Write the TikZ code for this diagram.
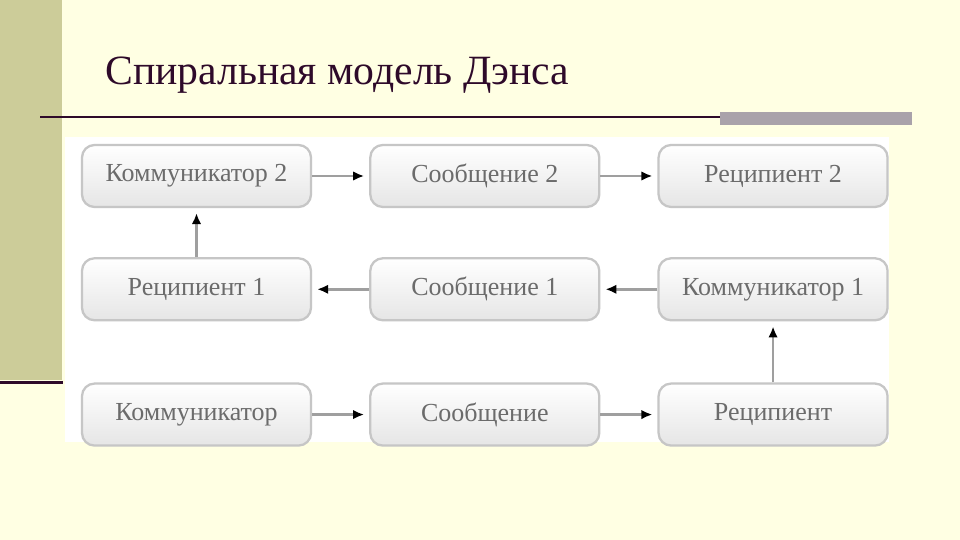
\documentclass[tikz,border=0pt]{standalone}
\usepackage{fontspec}
\setmainfont{Liberation Serif}
\usetikzlibrary{shapes,arrows.meta,positioning,calc}
\definecolor{fondo}{HTML}{FFFFE3}
\definecolor{franja}{HTML}{CCCC99}
\definecolor{ciruela}{HTML}{2E0A2A}
\definecolor{barra}{HTML}{A9A2AA}
\tikzset{
    etapa/.style={
        rectangle,                % forma básica
        rounded corners=2.5mm,    % esquinas redondeadas
        draw=gray!45,             % borde gris claro
        top color=white,          % degradado suave de arriba...
        bottom color=gray!20,     % ...hacia abajo
        line width=1.3pt,
        minimum width=4.58cm,     % todas las cajas iguales
        minimum height=1.24cm,
        text=black!58,            % texto gris
        font=\fontsize{14.8}{17}\selectfont
    },
    flecha/.style={
        draw=gray!75,             % línea gris
        line width=1.5pt,
        -{Latex[length=2.2mm,width=1.9mm,color=black]},
        shorten >=1mm
    }
}
\begin{document}
\begin{tikzpicture}
    \useasboundingbox (0,0) rectangle (19.2,10.8);
    % fondo de la diapositiva
    \fill[fondo] (0,0) rectangle (19.2,10.8);
    \fill[franja] (0,3.2) rectangle (1.24,10.8);
    \draw[ciruela,line width=1.5pt] (0,3.15) -- (1.26,3.15);
    \node[anchor=base west,inner sep=0pt,text=ciruela,font=\fontsize{23.7}{28}\selectfont] (titulo) at (2.1,9.1) {Спиральная модель Дэнса};
    \draw[ciruela,line width=1.2pt] (0.8,8.46) -- (14.4,8.46);
    \fill[barra] (14.4,8.3) rectangle (18.24,8.56);
    \fill[white] (1.3,1.96) rectangle (17.78,8.06);
    % cajas
    \begin{scope}[node distance=1.14cm]
        \node[etapa] (com2) at (3.93,7.28) {Коммуникатор 2};
        \node[etapa, right=of com2] (men2) {Сообщение 2};
        \node[etapa, right=of men2] (rec2) {Реципиент 2};
        \node[etapa, below=0.98cm of com2] (rec1) {Реципиент 1};
        \node[etapa, right=of rec1] (men1) {Сообщение 1};
        \node[etapa, right=of men1] (com1) {Коммуникатор 1};
        \node[etapa, below=1.22cm of rec1] (com0) {Коммуникатор};
        \node[etapa, right=of com0] (men0) {Сообщение};
        \node[etapa, right=of men0] (rec0) {Реципиент};
    \end{scope}
    % flechas de la espiral
    \draw[flecha] (com0) -- (men0);
    \draw[flecha] (men0) -- (rec0);
    \draw[flecha] (rec0) -- (com1);
    \draw[flecha] (com1) -- (men1);
    \draw[flecha] (men1) -- (rec1);
    \draw[flecha] (rec1) -- (com2);
    \draw[flecha] (com2) -- (men2);
    \draw[flecha] (men2) -- (rec2);
\end{tikzpicture}
\end{document}
